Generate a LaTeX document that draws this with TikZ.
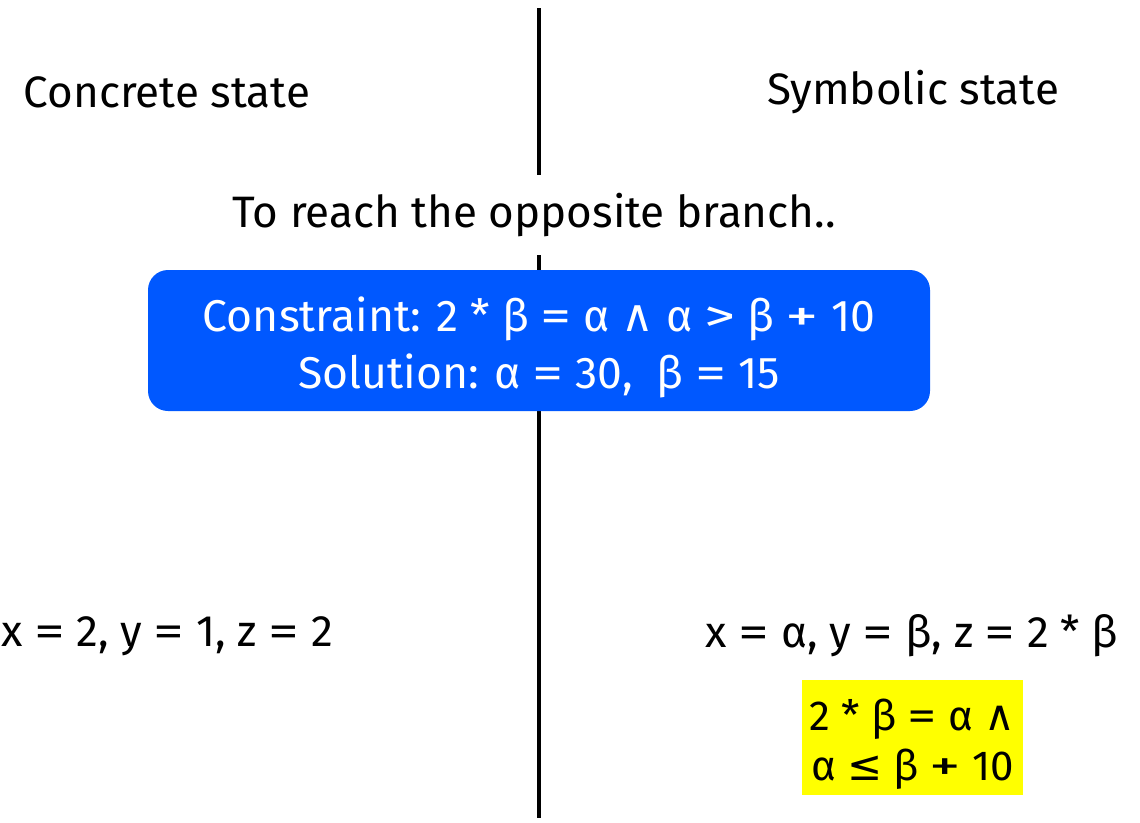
\documentclass[tikz,border=0pt]{standalone}
\usepackage{fontspec}
\usepackage{graphicx}
\setmainfont{Fira Sans}
\newfontfamily\symfont{DejaVu Sans}
\newcommand{\andsym}{{\symfont\char"2227}}
\newcommand{\lesym}{{\symfont\char"2264}}
\newcommand{\eqs}{\scalebox{1.4}[1]{=}}
\newcommand{\plus}{\scalebox{1.5}[1]{+}}
\newcommand{\gts}{\scalebox{1.4}[1]{>}}
\definecolor{boxblue}{RGB}{0,88,255}
\definecolor{hlyellow}{RGB}{255,255,0}
\tikzset{
  lbl/.style={font=\fontsize{44}{52}\selectfont, inner sep=0pt, anchor=center},
  divider/.style={line width=3.5pt, black},
  bluebox/.style={fill=boxblue, rounded corners=20pt, minimum width=782pt, minimum height=141pt, inner sep=0pt},
  bluetext/.style={text=white, align=center, font=\fontsize{44.5}{57}\selectfont, inner sep=0pt},
  yellowbox/.style={fill=hlyellow, minimum width=221pt, minimum height=115pt, inner sep=0pt},
  yellowtext/.style={align=center, font=\fontsize{42}{50}\selectfont, inner sep=0pt}
}
\begin{document}
\begin{tikzpicture}[x=1pt,y=-1pt]
\useasboundingbox (0,0) rectangle (1140,822);
\coordinate (top) at (539,8);
\coordinate (bot) at (539,818);
\draw[divider] (top) -- (bot);
\node[lbl] (conc) at (167,92) {Concrete state};
\node[lbl] (symb) at (913,92) {Symbolic state};
\node[lbl, fill=white, minimum height=80pt, inner xsep=4pt] (reach) at (534,215) {To reach the opposite branch..};
\node[bluebox] (cons) at (539,340.5) {};
\node[bluetext] (constext) at ([yshift=-7pt]cons.center) {Constraint: 2 * β \eqs{} α \andsym{} α \gts{} β \plus{} 10\\Solution: α \eqs{} 30,~ β \eqs{} 15};
\node[lbl] (cvals) at (167,636) {x \eqs{} 2, y \eqs{} 1, z \eqs{} 2};
\node[lbl] (svals) at (912,636) {x \eqs{} α, y \eqs{} β, z \eqs{} 2 * β};
\node[yellowbox] (pc) at (912.5,737.5) {};
\node[yellowtext] (pctext) at ([yshift=-7pt]pc.center) {2 * β \eqs{} α \andsym\\α \lesym{} β \plus{} 10};
\end{tikzpicture}
\end{document}
